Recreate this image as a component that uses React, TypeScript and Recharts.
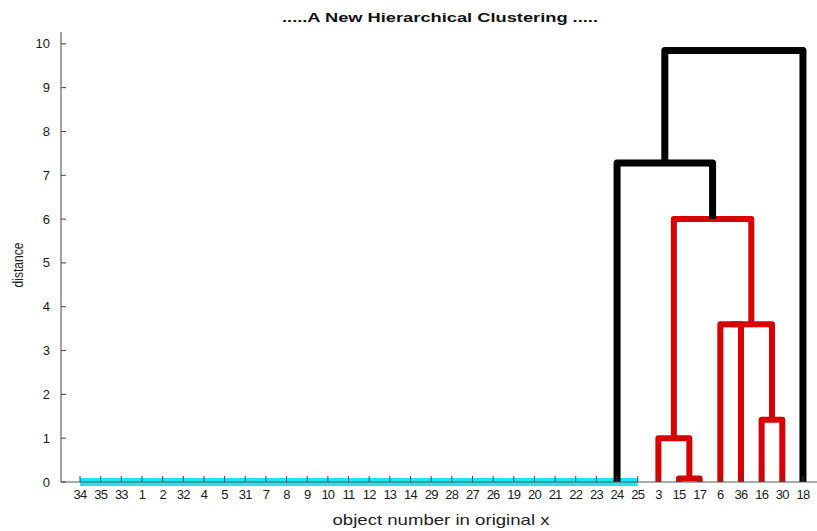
import React from 'react';
import { ComposedChart, Line, XAxis, YAxis } from 'recharts';

// leaf order along the x axis
const leafLabels = [
  '34', '35', '33', '1', '2', '32', '4', '5', '31', '7', '8', '9', '10', '11', '12', '13', '14',
  '29', '28', '27', '26', '19', '20', '21', '22', '23', '24', '25',
  '3', '15', '17', '6', '36', '16', '30', '18',
];

// zero-distance cluster (cyan), drawn flat on the axis, stem rises at "24"
const flatFrom = '34';
const flatTo = '25';
const flatStem = '24';

// merges: id, left child, right child, distance, colour
const mergeIds = ['m1', 'm2', 'm3', 'm4', 'm5', 'm6', 'm7', 'm8'];
const mergeLeft = ['15', '3', '16', '6', 'm4', 'm2', 'flat', 'm7'];
const mergeRight = ['17', 'm1', '30', '36', 'm3', 'm5', 'm6', '18'];
const mergeHeight = [0.08, 1.0, 1.42, 3.6, 3.6, 6.0, 7.28, 9.85];
const mergeColor = ['red', 'red', 'red', 'red', 'red', 'red', 'black', 'black'];

const yTicks = [0, 1, 2, 3, 4, 5, 6, 7, 8, 9, 10];

const COLORS: Record<string, string> = {
  red: '#d80000',
  black: '#000000',
  cyan: '#1ee6ee',
};

const FONT = '"Liberation Sans", Arial, sans-serif';

// x position (leaf index) and height of every node
const nodeX: Record<string, number> = {};
const nodeH: Record<string, number> = {};
leafLabels.forEach((l, i) => {
  nodeX[l] = i + 1;
  nodeH[l] = 0;
});
nodeX.flat = nodeX[flatStem];
nodeH.flat = 0;
mergeIds.forEach((id, i) => {
  nodeX[id] = (nodeX[mergeLeft[i]] + nodeX[mergeRight[i]]) / 2;
  nodeH[id] = mergeHeight[i];
});

const links = mergeIds.map((id, i) => {
  const l = mergeLeft[i];
  const r = mergeRight[i];
  return {
    id,
    color: COLORS[mergeColor[i]],
    data: [
      { x: nodeX[l], y: nodeH[l] },
      { x: nodeX[l], y: mergeHeight[i] },
      { x: nodeX[r], y: mergeHeight[i] },
      { x: nodeX[r], y: nodeH[r] },
    ],
  };
});

const flatData = [
  { x: nodeX[flatFrom], y: 0 },
  { x: nodeX[flatTo], y: 0 },
];

const YTick = ({ x, y, payload }: any) => (
  <g>
    <line x1={x + 11} x2={x + 16} y1={y} y2={y} stroke="#444" />
    <text x={x} y={y} dy={4.5} textAnchor="end" fontSize={13} fill="#1a1a1a" fontFamily={FONT}>
      {payload.value}
    </text>
  </g>
);

const XTick = ({ x, y, payload }: any) => (
  <g>
    <line x1={x} x2={x} y1={y - 7} y2={y - 13} stroke="#444" />
    <text x={x} y={y} dy={10} textAnchor="middle" fontSize={13} fill="#1a1a1a" fontFamily={FONT} letterSpacing={-0.8}>
      {leafLabels[payload.value - 1]}
    </text>
  </g>
);

export default function App() {
  return (
    <div style={{ position: 'absolute', left: 0, top: 0, width: 817, height: 531, background: '#fff' }}>
      <svg width={817} height={30} style={{ position: 'absolute', left: 0, top: 0 }}>
        <text
          x={440}
          y={22}
          textAnchor="middle"
          fontFamily={FONT}
          fontWeight="bold"
          fontSize={13}
          fill="#111"
          textLength={316}
          lengthAdjust="spacingAndGlyphs"
        >
          .....A New Hierarchical Clustering .....
        </text>
      </svg>
      <ComposedChart width={817} height={531} margin={{ top: 32, right: 0, bottom: 0, left: 0 }}>
        <XAxis
          type="number"
          dataKey="x"
          domain={[0.08, 36.68]}
          ticks={leafLabels.map((_, i) => i + 1)}
          interval={0}
          height={49}
          tickSize={0}
          tickMargin={7}
          tick={<XTick />}
          axisLine={{ stroke: '#555' }}
          label={{
            content: () => (
              <text
                x={441}
                y={525}
                textAnchor="middle"
                fontSize={15}
                fill="#222"
                fontFamily={FONT}
                textLength={217}
                lengthAdjust="spacingAndGlyphs"
              >
                object number in original x
              </text>
            ),
          }}
        />
        <YAxis
          type="number"
          domain={[0, 10.27]}
          ticks={yTicks}
          interval={0}
          width={61}
          tickSize={0}
          tickMargin={11}
          tick={<YTick />}
          axisLine={{ stroke: '#444' }}
          label={{
            content: () => (
              <text
                x={23}
                y={265}
                transform="rotate(-90 23 265)"
                textAnchor="middle"
                fontSize={14}
                fill="#222"
                fontFamily={FONT}
                textLength={45}
                lengthAdjust="spacingAndGlyphs"
              >
                distance
              </text>
            ),
          }}
        />
        <Line
          data={flatData}
          dataKey="y"
          type="linear"
          stroke={COLORS.cyan}
          strokeWidth={8}
          dot={false}
          activeDot={false}
          isAnimationActive={false}
        />
        {links.map((lk) => (
          <Line
            key={lk.id}
            data={lk.data}
            dataKey="y"
            type="linear"
            stroke={lk.color}
            strokeWidth={lk.color === COLORS.black ? 7 : 6}
            strokeLinejoin="round"
            dot={false}
            activeDot={false}
            isAnimationActive={false}
          />
        ))}
      </ComposedChart>
    </div>
  );
}
